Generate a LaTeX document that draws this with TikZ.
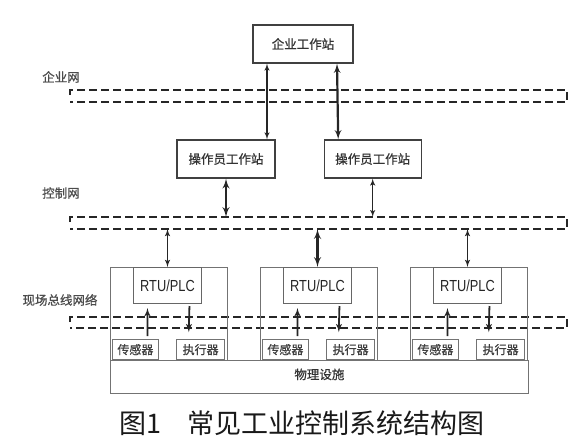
\documentclass[tikz,border=0pt]{standalone}
\usepackage{fontspec}
\setmainfont{Noto Sans CJK SC}
\newfontfamily\lblfamily[FakeBold=0.8]{Noto Sans CJK SC}
\newfontfamily\rtufont[FakeStretch=0.8]{Liberation Sans}
\usetikzlibrary{arrows,positioning}
\newcommand{\lblfont}{\lblfamily\fontsize{12.5pt}{14pt}\selectfont}

\begin{document}
\begin{tikzpicture}[x=1pt, y=-1pt, >=latex',
    box/.style={draw=black!75, line width=1.2pt, fill=white, text=black!80, font=\lblfont, inner sep=0pt},
    unitbox/.style={draw=black!55, line width=0.8pt, inner sep=0pt, font=\lblfont, text=black!80},
    rtubox/.style={draw=black!60, line width=1pt, inner sep=0pt, font=\rtufont\fontsize{16pt}{18pt}\selectfont, text=black!85},
    devbox/.style={draw=black!55, line width=0.8pt, inner sep=0pt, font=\lblfamily\fontsize{12pt}{13pt}\selectfont, text=black!75},
    bus/.style={draw=black!85, line width=2.4pt, dash pattern=on 8pt off 4pt},
    link/.style={<->, draw=black!85, line width=#1},
    link/.default=1.4pt,
    fieldlink/.style={draw=black!85, line width=1.8pt},
    netlabel/.style={font=\lblfont, text=black!70}]
    \useasboundingbox (0,0) rectangle (581,445);

    % networks
    \draw[bus] (70,95) -- (70,90) -- (567,90) -- (567,102) -- (70,102);
    \draw[bus] (70,222) -- (70,217) -- (567,217) -- (567,229) -- (70,229);
    \draw[bus] (70,322) -- (70,317) -- (567,317) -- (567,328) -- (70,328);
    \coordinate (ctrl_top) at (0,217);
    \coordinate (ctrl_bottom) at (0,229);

    \node[netlabel] (enterprise_net) at (61,77) {企业网};
    \node[netlabel] (control_net) at (61,193) {控制网};
    \node[netlabel] (field_net) at (60,300) {现场总线网络};

    % stations
    \node[box, minimum width=100pt, minimum height=38pt] (enterprise_station) at (303,44) {企业工作站};
    \node[box, minimum width=98pt, minimum height=38pt] (operator_a) at (226,159) {操作员工作站};
    \node[box, minimum width=97pt, minimum height=38pt, right=48pt of operator_a] (operator_b) {操作员工作站};

    \draw[link] ([xshift=-36pt]enterprise_station.south) -- ([xshift=41pt]operator_a.north);
    \draw[link=2.2pt] ([xshift=34pt]enterprise_station.south) -- ([xshift=-34.5pt]operator_b.north);
    \draw[link=2.4pt] (operator_a.south) -- (operator_a.south |- ctrl_top);
    \draw[link] (operator_b.south) -- (operator_b.south |- ctrl_top);

    % field units
    \foreach \x/\n/\w in {110/a/1.5pt, 260/b/2.4pt, 410/c/1.5pt}{
        \node[unitbox, anchor=north west, minimum width=117pt, minimum height=93pt] (unit_\n) at (\x,267) {};
        \node[rtubox, anchor=north west, minimum width=68pt, minimum height=36pt] (rtu_\n) at (\x+23,267) {RTU/PLC};
        \node[devbox, anchor=south west, minimum width=46pt, minimum height=20pt] (sensor_\n) at (\x+2,360) {传感器};
        \node[devbox, anchor=south east, minimum width=48pt, minimum height=20pt] (actuator_\n) at (\x+115,360) {执行器};
        \draw[link=\w] (rtu_\n.north |- ctrl_bottom) -- (rtu_\n.north);
        \draw[fieldlink, ->, shorten <=3pt, shorten >=4pt] ([xshift=12pt]sensor_\n.north) -- ([xshift=-20pt]rtu_\n.south);
        \draw[fieldlink, ->, shorten <=2pt, shorten >=7pt] ([xshift=22pt]rtu_\n.south) -- ([xshift=-12pt]actuator_\n.north);
    }

    \node[unitbox, anchor=north west, minimum width=418pt, minimum height=33pt, text depth=6pt] (plant) at (110,360) {物理设施};

    \node[font=\fontsize{27pt}{30pt}\selectfont, text=black!90] (caption) at (302,423) {图1\quad 常见工业控制系统结构图};
\end{tikzpicture}
\end{document}
